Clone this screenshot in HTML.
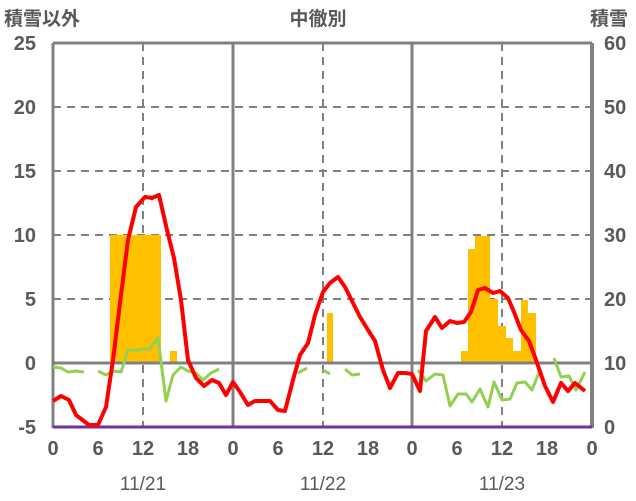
<!DOCTYPE html><html><head><style>body{margin:0;background:#fff}svg{display:block}text{font-family:"Liberation Sans","Noto Sans CJK JP",sans-serif;fill:#595959}</style></head><body>
<svg width="636" height="501" xmlns="http://www.w3.org/2000/svg">
<g stroke="#808080" stroke-width="2" stroke-dasharray="8,6">
<line x1="53" y1="107" x2="592" y2="107"/><line x1="53" y1="171" x2="592" y2="171"/><line x1="53" y1="235" x2="592" y2="235"/><line x1="53" y1="299" x2="592" y2="299"/>
<line x1="143" y1="43" x2="143" y2="427"/><line x1="323" y1="43" x2="323" y2="427"/><line x1="502" y1="43" x2="502" y2="427"/>
</g>
<g fill="#FFC000">
<rect x="110" y="235" width="51" height="128"/><rect x="170" y="351" width="7" height="12"/>
<rect x="327" y="313" width="6" height="50"/>
<rect x="461" y="351" width="7" height="12"/><rect x="468" y="249" width="7" height="114"/><rect x="475" y="236" width="15" height="127"/><rect x="490" y="299" width="8" height="64"/><rect x="498" y="326" width="8" height="37"/><rect x="506" y="338" width="7" height="25"/><rect x="513" y="351" width="8" height="12"/><rect x="521" y="300" width="7" height="63"/><rect x="528" y="313" width="8" height="50"/>
</g>
<g stroke="#808080" stroke-width="3" fill="none">
<line x1="53" y1="363" x2="592" y2="363"/><line x1="233" y1="43" x2="233" y2="427"/><line x1="412" y1="43" x2="412" y2="427"/>
<line x1="53" y1="43" x2="592" y2="43"/><line x1="53" y1="43" x2="53" y2="428"/><line x1="592" y1="43" x2="592" y2="428" stroke-width="4"/>
</g>
<line x1="53" y1="427" x2="592" y2="427" stroke="#7030A0" stroke-width="3"/>
<g stroke="#92D050" stroke-width="3" fill="none" stroke-linejoin="round">
<polyline points="53,367 61,368 68,372 76,371 84,372"/>
<polyline points="98,371 106,375 113,371 121,372 128,350 136,350 143,349 150,349 158,338 166,401 173,375 181,367 188,371 196,373 203,380 211,373 219,369"/>
<polyline points="298,373 307,368"/><polyline points="323,370 330,374"/><polyline points="345,369 352,375 360,374"/>
<polyline points="418,370 426,381 435,374 443,375 450,406 458,394 466,394 472,402 480,389 488,407 494,382 502,400 510,399 517,383 525,382 532,390 540,370"/>
<polyline points="554,358 561,377 569,376 576,390 585,372"/>
</g>
<polyline fill="none" stroke="#FF0000" stroke-width="4" stroke-linejoin="round" points="53,401 61,396 69,400 76,415 89,425 98,425 106,407 113,360 121,295 128,240 136,207 145,197 152,198 159,195 167,230 174,258 181,300 188,360 196,378 204,386 212,380 219,383 226,395 233,382 240,392 248,405 255,401 263,401 270,401 278,410 285,411 293,380 300,355 308,343 315,315 323,292 330,283 338,277 345,287 353,303 360,317 368,330 375,341 383,370 390,388 398,373 405,373 412,374 420,391 426,331 435,317 442,328 450,321 457,323 464,322 471,312 478,290 485,288 493,293 500,291 508,298 514,312 521,330 529,341 536,360 545,386 553,402 561,383 568,391 575,383 585,391"/>
<g font-size="20" font-weight="bold" text-anchor="end">
<text x="36" y="50">25</text><text x="36" y="114">20</text><text x="36" y="178">15</text><text x="36" y="242">10</text><text x="36" y="306">5</text><text x="36" y="370">0</text><text x="36" y="434">-5</text>
</g>
<g font-size="20" font-weight="bold" text-anchor="start">
<text x="604" y="50">60</text><text x="604" y="114">50</text><text x="604" y="178">40</text><text x="604" y="242">30</text><text x="604" y="306">20</text><text x="604" y="370">10</text><text x="604" y="434">0</text>
</g>
<g font-size="20" font-weight="bold" text-anchor="middle">
<text x="53" y="455">0</text><text x="98" y="455">6</text><text x="143" y="455">12</text><text x="188" y="455">18</text><text x="233" y="455">0</text><text x="278" y="455">6</text><text x="323" y="455">12</text><text x="368" y="455">18</text><text x="412" y="455">0</text><text x="457" y="455">6</text><text x="502" y="455">12</text><text x="547" y="455">18</text><text x="592" y="455">0</text>
</g>
<g font-size="19" text-anchor="middle">
<text x="143" y="490">11/21</text><text x="323" y="490">11/22</text><text x="502" y="490">11/23</text>
</g>
<g font-size="19" font-weight="bold">
<text x="4" y="25">積雪以外</text><text x="318" y="25" text-anchor="middle">中徹別</text><text x="590" y="25">積雪</text>
</g>
</svg></body></html>
